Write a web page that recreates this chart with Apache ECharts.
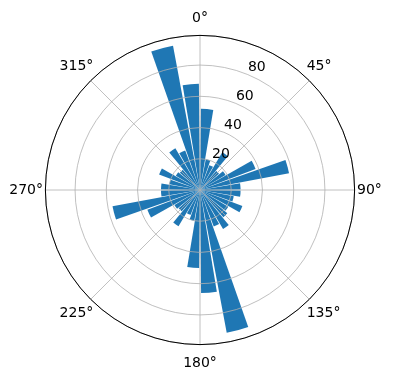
<!DOCTYPE html>
<html>
<head>
<meta charset="utf-8">
<script src="https://cdn.jsdelivr.net/npm/echarts@6/dist/echarts.min.js"></script>
<style>html,body{margin:0;padding:0;background:#fff;}#c{width:396px;height:380px;}</style>
</head>
<body>
<div id="c"></div>
<script>
// bar centre angles (degrees, clockwise from north)
var angles = [5,15,25,35,45,55,65,75,85,95,105,115,125,135,145,155,165,175,185,195,205,215,225,235,245,255,265,275,285,295,305,315,325,335,345,355];
// bar lengths (radial values)
var values = [52,20,17,28,16,19,38,58,26,26,22,29,21,23,29,25,93,66,50,20,17,27,18,19,36,57,25,25,20,28,18,17,31,27,94,68];
// radial tick labels
var radialTicks = [20,40,60,80];
// angular tick labels
var angleLabels = ['0°','45°','90°','135°','180°','225°','270°','315°'];

var C = [200,190], R = 154.6, RMAX = 99;
var font = 'DejaVu Sans';
var FS = 14;
// per-label paddings [top,right,bottom,left] so labels sit centred on a common circle
var pads = [[0,0,15.5,0],[0,0,11.3,1.3],[0,0,0,8],[11.3,0,0,1.3],[17.5,0,0,0],[11.3,1.3,0,0],[0,8,0,0],[0,1.3,11.3,0]];
var angleCats = angleLabels.map(function(t,i){ return {value:t, textStyle:{padding:pads[i]}}; });

var chart = echarts.init(document.getElementById('c'), null, {renderer:'canvas'});
chart.setOption({
  backgroundColor:'#fff',
  animation:false,
  polar:[
    {center:C, radius:R},
    {center:C, radius:R},
    {center:[209,183], radius:R},
    {center:C, radius:149}
  ],
  angleAxis:[
    {polarIndex:0, type:'value', min:0, max:360, interval:45, startAngle:90, clockwise:true, z:5,
     axisLine:{show:true, lineStyle:{color:'#000', width:1}},
     axisTick:{show:false}, axisLabel:{show:false},
     splitLine:{show:true, lineStyle:{color:'#b0b0b0', width:0.8}}},
    {polarIndex:1, type:'category', data:angles, startAngle:90, clockwise:true,
     axisLine:{show:false}, axisTick:{show:false}, axisLabel:{show:false}, splitLine:{show:false}},
    {polarIndex:2, type:'value', min:0, max:360, startAngle:67.5, clockwise:true,
     axisLine:{show:false}, axisTick:{show:false}, axisLabel:{show:false}, splitLine:{show:false}},
    {polarIndex:3, type:'category', data:angleCats, startAngle:112.5, clockwise:true, z:6,
     axisLine:{show:false}, axisTick:{show:false}, splitLine:{show:false},
     axisLabel:{show:true, interval:0, margin:0, fontFamily:font, fontSize:FS, color:'#000'}}
  ],
  radiusAxis:[
    {polarIndex:0, type:'value', min:0, max:RMAX, interval:20, z:5,
     axisLine:{show:false}, axisTick:{show:false}, axisLabel:{show:false},
     splitLine:{show:true, lineStyle:{color:'#b0b0b0', width:0.8}}},
    {polarIndex:1, type:'value', min:0, max:RMAX,
     axisLine:{show:false}, axisTick:{show:false}, axisLabel:{show:false}, splitLine:{show:false}},
    {polarIndex:2, type:'value', min:0, max:RMAX, interval:20, z:6,
     axisLine:{show:false}, axisTick:{show:false}, splitLine:{show:false},
     axisLabel:{show:true, margin:0, rotate:0, align:'center', verticalAlign:'middle',
       fontFamily:font, fontSize:FS, color:'#000',
       formatter:function(v){ return radialTicks.indexOf(v)>=0 ? String(v) : ''; }}},
    {polarIndex:3, type:'value', min:0, max:RMAX,
     axisLine:{show:false}, axisTick:{show:false}, axisLabel:{show:false}, splitLine:{show:false}}
  ],
  series:[{
    type:'bar', coordinateSystem:'polar', polarIndex:1, data:values,
    barWidth:'88%', z:2,
    itemStyle:{color:'#1f77b4'}
  }]
});
</script>
</body>
</html>
